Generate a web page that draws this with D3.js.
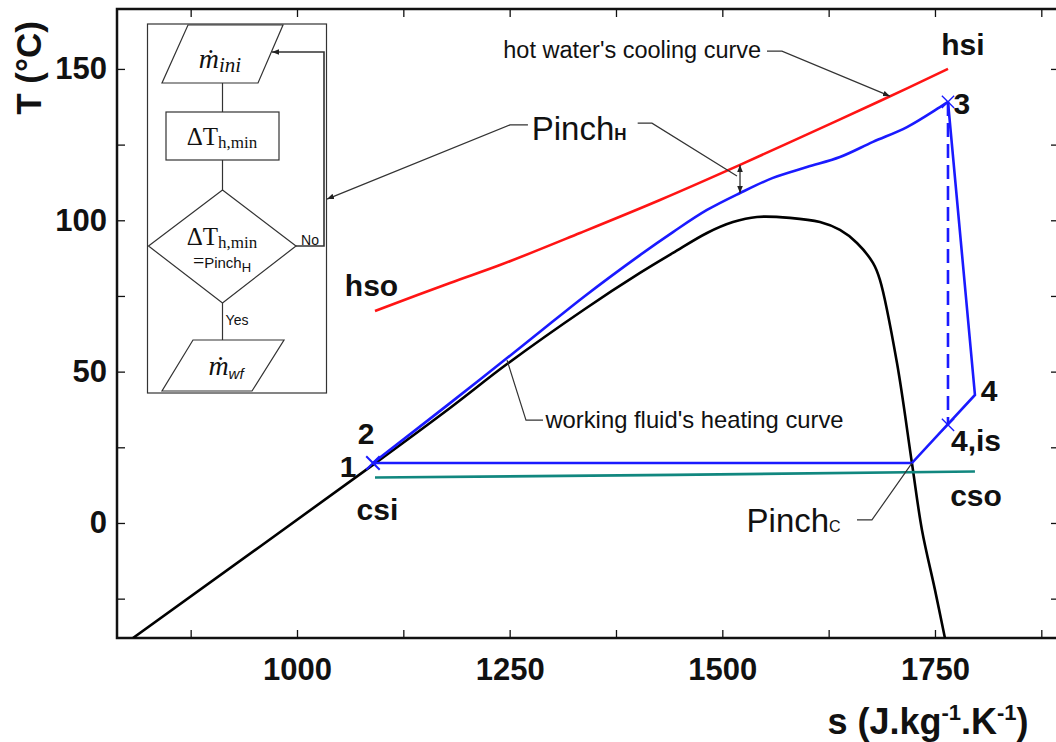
<!DOCTYPE html>
<html><head><meta charset="utf-8">
<script src="https://cdn.jsdelivr.net/npm/d3@7"></script>
<style>body{margin:0;background:#fff;} svg{display:block;}</style>
</head><body>
<svg id="chart" width="1056" height="742"></svg>
<script>
// ---------- data ----------
const sTicksMajor = [1000, 1250, 1500, 1750];
const sTicksMinor = [875, 1125, 1375, 1625, 1875];
const tTicksMajor = [0, 50, 100, 150];
const tTicksMinor = [-25, 25, 75, 125];

// saturation dome (black)
const domeS = [807.2, 1089.3, 1179.9, 1246.9, 1338.5, 1403.2, 1442.0, 1482.0, 1512.5, 1540.7, 1579.5, 1614.8, 1638.3, 1658.3, 1677.1, 1685.3, 1705.3, 1722.9, 1734.7, 1750.0, 1761.7];
const domeT = [-38.0, 19.2, 38.0, 52.5, 70.7, 82.6, 89.2, 95.8, 99.4, 101.1, 100.8, 99.4, 96.8, 92.5, 85.9, 80.3, 52.9, 19.8, -2.3, -22.1, -38.0];

// working fluid heating curve 1-2-3 (blue)
const heatS = [1089.3, 1179.9, 1273.9, 1338.5, 1403.2, 1442.0, 1482.0, 1520.8, 1559.5, 1599.5, 1638.3, 1677.1, 1717.1, 1755.9, 1765.3];
const heatT = [19.8, 39.6, 60.5, 75.0, 88.5, 96.1, 103.4, 109.0, 114.0, 117.6, 120.9, 125.9, 130.8, 137.4, 139.1];

// hot water cooling curve hso -> hsi (red)
const redS = [1091.7, 1179.9, 1238.6, 1332.7, 1426.7, 1520.8, 1603.0, 1685.3, 1765.3];
const redT = [70.0, 79.3, 85.2, 95.8, 106.7, 118.3, 128.8, 139.4, 150.0];

// cooling water csi -> cso (teal)
const tealS = [1091.7, 1444.0, 1797.0];
const tealT = [15.0, 15.9, 17.0];

// cycle state points
const stateNames = ["1", "3", "4", "4,is", "pinchC"];
const stateS = [1089.3, 1765.3, 1797.0, 1765.3, 1722.9];
const stateT = [19.8, 139.1, 42.3, 32.4, 19.8];

// point labels
const labelTexts = ["hsi", "3", "4", "4,is", "cso", "hso", "2", "1", "csi"];
const labelS = [1782.9, 1781.7, 1813.5, 1798.2, 1798.2, 1087.6, 1081.1, 1060.0, 1094.6];
const labelT = [158.2, 138.8, 43.9, 27.4, 9.3, 78.6, 29.7, 18.8, 4.6];

// pinch H location (entropy)
const pinchHS = 1520.8;

// ---------- setup ----------
const svg = d3.select("#chart");
const L = 117, R = 1059, T = 9, B = 638;
const x = d3.scaleLinear().domain([788.4, 1895.8]).range([L, R]);
const y = d3.scaleLinear().domain([-38, 169.8]).range([B, T]);

const defs = svg.append("defs");
defs.append("clipPath").attr("id", "plotclip").append("rect")
  .attr("x", L).attr("y", T).attr("width", R - L).attr("height", B - T);
defs.append("marker").attr("id", "arr").attr("viewBox", "0 0 10 10")
  .attr("refX", 10).attr("refY", 5).attr("markerWidth", 7).attr("markerHeight", 7)
  .attr("markerUnits", "userSpaceOnUse").attr("orient", "auto-start-reverse")
  .append("path").attr("d", "M0,1 L10,5 L0,9 Z").attr("fill", "#222");

const SANS = "'Liberation Sans', Arial, Helvetica, sans-serif";
const SERIF = "'Liberation Serif', 'DejaVu Serif', 'Times New Roman', serif";

// ---------- axes ----------
const fmtX = d => sTicksMajor.includes(d) ? d : "";
const fmtY = d => tTicksMajor.includes(d) ? d : "";
const gxb = svg.append("g").attr("transform", `translate(0,${B})`)
  .call(d3.axisBottom(x).tickValues([...sTicksMajor, ...sTicksMinor]).tickSize(-8).tickPadding(20).tickFormat(fmtX));
const gxt = svg.append("g").attr("transform", `translate(0,${T})`)
  .call(d3.axisTop(x).tickValues([...sTicksMajor, ...sTicksMinor]).tickSize(-8).tickFormat(""));
const gyl = svg.append("g").attr("transform", `translate(${L},0)`)
  .call(d3.axisLeft(y).tickValues([...tTicksMajor, ...tTicksMinor]).tickSize(-8).tickPadding(10).tickFormat(fmtY));
const gyr = svg.append("g").attr("transform", `translate(${R},0)`)
  .call(d3.axisRight(y).tickValues([...tTicksMajor, ...tTicksMinor]).tickSize(-8).tickFormat(""));
[gxb, gxt, gyl, gyr].forEach(g => {
  g.select(".domain").remove();
  g.selectAll(".tick line").attr("stroke", "#111").attr("stroke-width", 1.3);
  g.selectAll(".tick text").attr("fill", "#111").style("font-family", SANS)
    .style("font-weight", "bold").style("font-size", "31px");
});
svg.append("rect").attr("x", L).attr("y", T).attr("width", R - L).attr("height", B - T)
  .attr("fill", "none").attr("stroke", "#111").attr("stroke-width", 2.5);

// axis titles
svg.append("text").attr("transform", "translate(41,68) rotate(-90)")
  .attr("text-anchor", "middle").style("font-family", SANS).style("font-weight", "bold")
  .style("font-size", "35px").attr("fill", "#111").text("T (°C)");
const xt = svg.append("text").attr("x", 928).attr("y", 734).attr("text-anchor", "middle")
  .style("font-family", SANS).style("font-weight", "bold").style("font-size", "36px").attr("fill", "#111");
xt.append("tspan").text("s (J.kg");
xt.append("tspan").attr("dy", -14).style("font-size", "22px").text("-1");
xt.append("tspan").attr("dy", 14).text(".K");
xt.append("tspan").attr("dy", -14).style("font-size", "22px").text("-1");
xt.append("tspan").attr("dy", 14).text(")");

// ---------- curves ----------
const plot = svg.append("g").attr("clip-path", "url(#plotclip)");
const smooth = d3.line().x(d => x(d[0])).y(d => y(d[1])).curve(d3.curveCatmullRom.alpha(0.5));
const straight = d3.line().x(d => x(d[0])).y(d => y(d[1]));
const zip = (a, b) => a.map((v, i) => [v, b[i]]);

plot.append("path").attr("d", smooth(zip(domeS, domeT))).attr("fill", "none")
  .attr("stroke", "#000").attr("stroke-width", 2.6);
plot.append("path").attr("d", smooth(zip(redS, redT))).attr("fill", "none")
  .attr("stroke", "#ff1414").attr("stroke-width", 2.6);
plot.append("path").attr("d", straight(zip(tealS, tealT))).attr("fill", "none")
  .attr("stroke", "#11877f").attr("stroke-width", 2.6);
plot.append("path").attr("d", smooth(zip(heatS, heatT))).attr("fill", "none")
  .attr("stroke", "#1a1aff").attr("stroke-width", 2.6);

const st = name => { const i = stateNames.indexOf(name); return [stateS[i], stateT[i]]; };
plot.append("path").attr("d", straight([st("3"), st("4"), st("pinchC"), st("1")]))
  .attr("fill", "none").attr("stroke", "#1a1aff").attr("stroke-width", 2.6).attr("stroke-linejoin", "miter");
plot.append("path").attr("d", straight([st("3"), st("4,is")]))
  .attr("fill", "none").attr("stroke", "#1a1aff").attr("stroke-width", 2.6).attr("stroke-dasharray", "14,7");

// cross markers
["1", "3", "4,is"].forEach(n => {
  const p = st(n);
  plot.append("path").attr("d", d3.symbol().type(d3.symbolX).size(n === "1" ? 120 : 100)())
    .attr("transform", `translate(${x(p[0])},${y(p[1])})`)
    .attr("fill", "none").attr("stroke", "#1a1aff").attr("stroke-width", n === "1" ? 2 : 1.3);
});

// point labels
labelTexts.forEach((t, i) => {
  svg.append("text").attr("x", x(labelS[i])).attr("y", y(labelT[i])).attr("dy", "0.36em")
    .attr("text-anchor", "middle").style("font-family", SANS).style("font-weight", "bold")
    .style("font-size", "30px").attr("fill", "#111").text(t);
});

// ---------- annotations ----------
const lead = (pts, arrow) => {
  const p = svg.append("path").attr("d", straight(pts)).attr("fill", "none")
    .attr("stroke", "#333").attr("stroke-width", 1.2);
  if (arrow) p.attr("marker-end", "url(#arr)");
  return p;
};
const annoText = (sx, ty, txt, size) => svg.append("text").attr("x", x(sx)).attr("y", y(ty))
  .style("font-family", SANS).style("font-size", size + "px").attr("fill", "#111").text(txt);

// hot water's cooling curve
annoText(1242.5, 153.5, "hot water's cooling curve", 23.5);
lead([[1552.5, 155.9], [1570.1, 155.9], [1697.1, 141.0]], true);

// working fluid's heating curve
annoText(1292, 31.3, "working fluid's heating curve", 23.8);
lead([[1246.9, 53.8], [1269.2, 34.0], [1289.2, 34.0]], false);

// Pinch H
const ph = svg.append("text").attr("x", x(1276)).attr("y", y(126.5))
  .style("font-family", SANS).style("font-size", "33px").attr("fill", "#111");
ph.append("tspan").text("Pinch");
ph.append("tspan").style("font-size", "17px").style("font-weight", "bold").text("H");
lead([[1271.5, 131.5], [1250.4, 131.5], [1035.3, 107.0]], true);
lead([[1400.5, 132.1], [1417.3, 132.1], [1517.2, 114.6]], false);
const redAtPinch = redT[redS.indexOf(pinchHS)];
const blueAtPinch = heatT[heatS.indexOf(pinchHS)];
svg.append("line").attr("x1", x(pinchHS)).attr("x2", x(pinchHS))
  .attr("y1", y(redAtPinch)).attr("y2", y(blueAtPinch))
  .attr("stroke", "#222").attr("stroke-width", 1.2)
  .attr("marker-start", "url(#arr)").attr("marker-end", "url(#arr)");

// Pinch C
const pc = svg.append("text").attr("x", x(1528.5)).attr("y", y(-2.9))
  .style("font-family", SANS).style("font-size", "33px").attr("fill", "#111");
pc.append("tspan").text("Pinch");
pc.append("tspan").style("font-size", "16px").text("C");
lead([[1658.3, 1.0], [1675.9, 1.0], st("pinchC")], false);

// ---------- flowchart inset ----------
const fc = svg.append("g").attr("fill", "none").attr("stroke", "#333").attr("stroke-width", 1.2);
fc.append("rect").attr("x", 147.5).attr("y", 24).attr("width", 179).attr("height", 369).attr("fill", "#fff");
const poly = pts => fc.append("polygon").attr("points", pts.map(p => p.join(",")).join(" "));
poly([[188, 25], [283, 25], [258, 83], [162, 83]]);
fc.append("line").attr("x1", 222.5).attr("y1", 83).attr("x2", 222.5).attr("y2", 112);
fc.append("rect").attr("x", 166).attr("y", 112).attr("width", 113).attr("height", 48);
fc.append("line").attr("x1", 222.5).attr("y1", 160).attr("x2", 222.5).attr("y2", 190);
poly([[222.5, 190], [296, 246], [222.5, 303], [148.5, 246]]);
fc.append("line").attr("x1", 222.5).attr("y1", 303).attr("x2", 222.5).attr("y2", 340);
poly([[193, 340], [284, 340], [252, 391], [162, 391]]);
fc.append("path").attr("d", "M296,246 L324,246 L324,52 L272,52").attr("marker-end", "url(#arr)").attr("stroke-width", 1.6);

const ft = (xx, yy, anchor) => svg.append("text").attr("x", xx).attr("y", yy)
  .attr("text-anchor", anchor || "middle").attr("fill", "#111");
let t1 = ft(220, 68).style("font-family", SERIF).style("font-style", "italic").style("font-size", "28px");
t1.append("tspan").text("ṁ");
t1.append("tspan").attr("dy", 4).style("font-size", "21px").text("ini");

let t2 = ft(222, 145).style("font-family", SERIF).style("font-size", "25px");
t2.append("tspan").text("ΔT");
t2.append("tspan").attr("dy", 3).style("font-size", "17px").text("h,min");

let t3 = ft(222, 245).style("font-family", SERIF).style("font-size", "25px");
t3.append("tspan").text("ΔT");
t3.append("tspan").attr("dy", 3).style("font-size", "17px").text("h,min");

let t4 = ft(222, 268).style("font-family", SERIF).style("font-size", "20px");
t4.append("tspan").text("=");
t4.append("tspan").style("font-family", SANS).style("font-size", "15px").text("Pinch");
t4.append("tspan").attr("dy", 4).style("font-family", SANS).style("font-size", "13px").text("H");

ft(310, 245).style("font-family", SANS).style("font-size", "14px").text("No");
ft(237, 325).style("font-family", SANS).style("font-size", "14px").text("Yes");

let t5 = ft(226, 375).style("font-family", SERIF).style("font-style", "italic").style("font-size", "28px");
t5.append("tspan").text("ṁ");
t5.append("tspan").attr("dy", 4).style("font-family", SANS).style("font-size", "15px").text("wf");
</script>
</body></html>
